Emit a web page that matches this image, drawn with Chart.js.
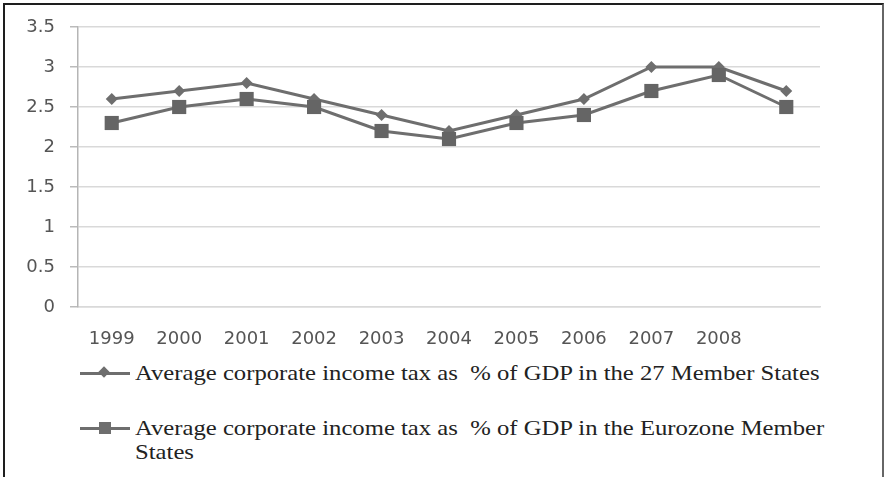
<!DOCTYPE html>
<html>
<head>
<meta charset="utf-8">
<script src="https://cdn.jsdelivr.net/npm/chart.js@4.4.1/dist/chart.umd.min.js"></script>
<style>
  html, body { margin: 0; padding: 0; background: #fff; }
  #frame {
    position: absolute; left: 3px; top: 3px; width: 881px; height: 490px;
    border-left: 2px solid #1e1e1e; border-top: 2px solid #1e1e1e; border-right: 2px solid #666;
    box-sizing: border-box;
  }
  #chart { position: absolute; left: 0; top: 0; }
  .legend { position: absolute; left: 80px; font-family: "Liberation Serif", "Times New Roman", serif;
    font-size: 21px; color: #222; line-height: 24px; }
  .legend .mark { position: absolute; left: 0; top: 11px; width: 50px; height: 3px; background: #6e6e6e; }
  .legend .mark i { position: absolute; display: block; background: #6e6e6e; }
  .legend .txt { position: absolute; left: 55px; top: 0; white-space: nowrap; transform-origin: 0 0; }
</style>
</head>
<body>
<div id="frame"></div>
<canvas id="chart" width="888" height="360"></canvas>

<div class="legend" style="top:361px">
  <div class="mark"><i style="left:20px;top:-4px;width:8px;height:8px;transform:rotate(45deg)"></i></div>
  <div class="txt" id="lab1"></div>
</div>
<div class="legend" style="top:416px">
  <div class="mark"><i style="left:19px;top:-5px;width:12px;height:12px"></i></div>
  <div class="txt" id="lab2"></div>
</div>

<script>
// categories: 11 points, the last one has no label on the axis
const years = ['1999', '2000', '2001', '2002', '2003', '2004', '2005', '2006', '2007', '2008', ''];

// average corporate income tax as % of GDP
const eu27 = [2.6, 2.7, 2.8, 2.6, 2.4, 2.2, 2.4, 2.6, 3.0, 3.0, 2.7];
const eurozone = [2.3, 2.5, 2.6, 2.5, 2.2, 2.1, 2.3, 2.4, 2.7, 2.9, 2.5];

const yTicks = [0, 0.5, 1, 1.5, 2, 2.5, 3, 3.5];

const label1 = 'Average corporate income tax as \u00a0% of GDP in the 27 Member States';
const label2 = 'Average corporate income tax as \u00a0% of GDP in the Eurozone Member';
const label2b = 'States';

const lab1 = document.getElementById('lab1');
const lab2 = document.getElementById('lab2');
lab1.textContent = label1;
lab2.innerHTML = label2 + '<br>' + label2b;

// the legend text in the original is stretched wide, up to the plot's right edge
const sx = 685 / lab1.scrollWidth;
lab1.style.transform = 'scaleX(' + sx + ')';
lab2.style.transform = 'scaleX(' + sx + ')';

const grey = '#6e6e6e';

new Chart(document.getElementById('chart'), {
  type: 'line',
  data: {
    labels: years,
    datasets: [
      {
        label: label1,
        data: eu27,
        borderColor: grey,
        backgroundColor: grey,
        borderWidth: 3,
        pointStyle: 'rectRot',
        pointRadius: 6,
        pointBorderWidth: 0,
        order: 1
      },
      {
        label: label2 + ' ' + label2b,
        data: eurozone,
        borderColor: grey,
        backgroundColor: '#656565',
        borderWidth: 3,
        pointStyle: 'rect',
        pointRadius: 10,
        pointBorderWidth: 0,
        order: 0
      }
    ]
  },
  options: {
    responsive: false,
    animation: false,
    layout: { padding: { left: 0, right: 68, top: 27, bottom: 0 } },
    plugins: { legend: { display: false }, tooltip: { enabled: false } },
    scales: {
      x: {
        offset: true,
        grid: { display: false, drawTicks: false },
        border: { color: '#d9d9d9', width: 1.5 },
        ticks: {
          color: '#555',
          font: { family: 'DejaVu Sans', size: 18 },
          padding: 22,
          maxRotation: 0,
          autoSkip: false
        },
        afterFit: (axis) => { axis.height = 53; }
      },
      y: {
        min: 0,
        max: 3.5,
        afterBuildTicks: (axis) => { axis.ticks = yTicks.map(v => ({ value: v })); },
        grid: { color: '#d9d9d9', lineWidth: 1.5, tickLength: 8, tickColor: '#bbb' },
        border: { color: '#b5b5b5', width: 1.5 },
        ticks: {
          color: '#555',
          font: { family: 'DejaVu Sans', size: 18 },
          padding: 15,
          callback: (v) => String(v)
        },
        afterFit: (axis) => { axis.width = 78; }
      }
    }
  }
});
</script>
</body>
</html>
